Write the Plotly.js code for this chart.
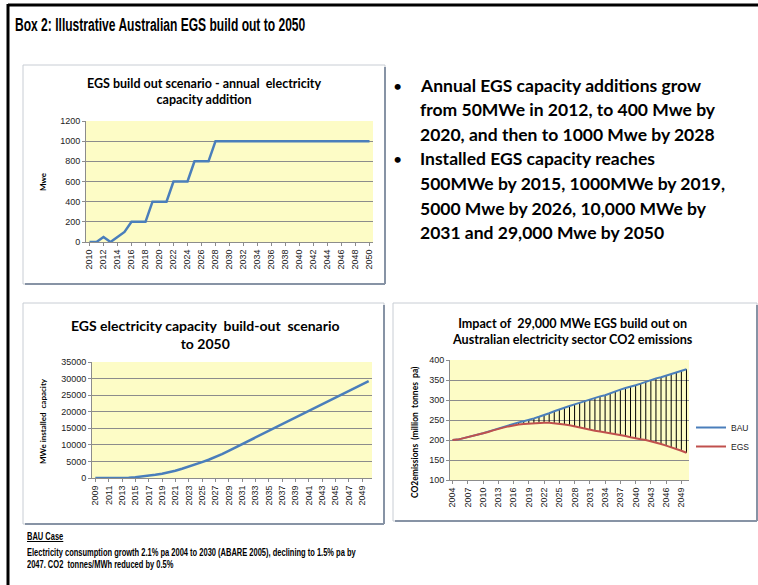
<!DOCTYPE html>
<html>
<head>
<meta charset="utf-8">
<script src="https://cdn.plot.ly/plotly-3.0.1.min.js"></script>
<style>
  body { margin: 0; background: #fff; }
  #wrap { position: relative; width: 758px; height: 585px; overflow: hidden; }
  #plotDiv { width: 758px; height: 585px; }
  .txt { position: absolute; white-space: nowrap; font-family: "Liberation Sans", Arial, sans-serif;
         font-weight: bold; color: #000; transform-origin: 0 50%; }
</style>
</head>
<body>
<div id="wrap">
  <div id="plotDiv"></div>
  <div class="txt" id="boxTitle" style="left:15px; top:15px; font-size:18px; line-height:20px;">Box 2: Illustrative Australian EGS build out to 2050</div>
  <div class="txt foot" style="left:27px; top:531px; font-size:11.5px; line-height:11px; text-decoration:underline;">BAU Case</div>
  <div class="txt foot" id="footMain" style="left:27px; top:547px; font-size:11.5px; line-height:11px;">Electricity consumption growth 2.1% pa 2004 to 2030 (ABARE 2005), declining to 1.5% pa by</div>
  <div class="txt foot" style="left:27px; top:558.5px; font-size:11.5px; line-height:11px;">2047. CO2&nbsp; tonnes/MWh reduced by 0.5%</div>
</div>
<script>
// annual capacity additions (MWe)
const addYears = [2010, 2011, 2012, 2013, 2014, 2015, 2016, 2017, 2018, 2019, 2020, 2021, 2022, 2023, 2024, 2025, 2026, 2027,
    2028, 2029, 2030, 2031, 2032, 2033, 2034, 2035, 2036, 2037, 2038, 2039, 2040, 2041, 2042, 2043, 2044, 2045, 2046, 2047, 2048, 2049, 2050];
const addMwe = [0, 0, 50, 0, 50, 100, 200, 200, 200, 400, 400, 400, 600, 600, 600, 800, 800, 800,
    1000, 1000, 1000, 1000, 1000, 1000, 1000, 1000, 1000, 1000, 1000, 1000, 1000, 1000, 1000, 1000, 1000, 1000, 1000, 1000, 1000, 1000, 1000];

// installed capacity (MWe)
const capYears = [2009, 2010, 2011, 2012, 2013, 2014, 2015, 2016, 2017, 2018, 2019, 2020, 2021, 2022, 2023, 2024, 2025, 2026, 2027, 2028, 2029,
    2030, 2031, 2032, 2033, 2034, 2035, 2036, 2037, 2038, 2039, 2040, 2041, 2042, 2043, 2044, 2045, 2046, 2047, 2048, 2049, 2050];
const capMwe = [0, 0, 0, 50, 50, 100, 250, 450, 700, 950, 1300, 1700, 2200, 2800, 3400, 4100, 4800, 5500, 6300, 7200, 8200,
    9200, 10200, 11200, 12200, 13200, 14200, 15200, 16200, 17200, 18200, 19200, 20200, 21200, 22200, 23200, 24200, 25200, 26300, 27300, 28200, 29200];

// CO2 emissions (million tonnes pa)
const co2Years = [2004, 2005, 2006, 2007, 2008, 2009, 2010, 2011, 2012, 2013, 2014, 2015, 2016, 2017, 2018, 2019, 2020, 2021, 2022, 2023,
    2024, 2025, 2026, 2027, 2028, 2029, 2030, 2031, 2032, 2033, 2034, 2035, 2036, 2037, 2038, 2039, 2040, 2041, 2042, 2043,
    2044, 2045, 2046, 2047, 2048, 2049, 2050];
const bau = [200, 201, 204, 207, 210, 213, 217, 221, 225, 229, 233, 237, 240, 244, 247, 250, 254, 258, 262, 267,
    272, 277, 281, 285, 289, 293, 298, 302, 305, 309, 312, 317, 321, 326, 330, 333, 337, 341, 346, 350,
    354, 357, 361, 365, 369, 373, 377];
const egs = [200, 201, 204, 207, 210, 213, 216, 220, 224, 228, 231, 234, 237, 239, 240, 241, 242, 243, 243, 243,
    242, 241, 239, 237, 234, 231, 228, 225, 223, 221, 219, 217, 215, 212, 210, 207, 204, 202, 200, 197,
    194, 190, 186, 182, 178, 173, 168];

const bulletLines = [
    ['•', 'Annual EGS capacity additions grow'],
    ['', 'from 50MWe in 2012, to 400 Mwe by'],
    ['', '2020, and then to 1000 Mwe by 2028'],
    ['•', 'Installed EGS capacity reaches'],
    ['', '500MWe by 2015, 1000MWe by 2019,'],
    ['', '5000 Mwe by 2026, 10,000 MWe by'],
    ['', '2031 and 29,000 Mwe by 2050']
];

const W = 758, H = 585;
const px = x => x / W;
const py = y => 1 - y / H;

const BLUE = '#4a7ebb';
const RED = '#c0504d';
const PLOT_BG = '#fdfcc6';
const GRID = '#8c8c8c';
const TITLE_FONT = 'Lato, "Open Sans", sans-serif';
const TICK_FONT = {family: '"Liberation Sans", Arial, sans-serif', size: 9, color: '#222'};

// the box heading and footnote are a very condensed face: squeeze them to the measured width
function squeeze(el, target) {
    const w = el.scrollWidth;
    return w > 0 ? target / w : 1;
}
const boxTitle = document.getElementById('boxTitle');
boxTitle.style.transform = 'scaleX(' + squeeze(boxTitle, 290) + ')';
const footScale = squeeze(document.getElementById('footMain'), 329);
document.querySelectorAll('.foot').forEach(el => { el.style.transform = 'scaleX(' + footScale + ')'; });

// vertical high-low lines between BAU and EGS
const dropX = [], dropY = [];
co2Years.forEach((yr, i) => {
    dropX.push(yr, yr, null);
    dropY.push(bau[i], egs[i], null);
});

const traceAdd = {
    x: addYears, y: addMwe, xaxis: 'x', yaxis: 'y',
    mode: 'lines', line: {color: BLUE, width: 2.5}, showlegend: false
};
const traceCap = {
    x: capYears, y: capMwe, xaxis: 'x2', yaxis: 'y2',
    mode: 'lines', line: {color: BLUE, width: 2.5}, showlegend: false
};
const traceDrop = {
    x: dropX, y: dropY, xaxis: 'x3', yaxis: 'y3',
    mode: 'lines', line: {color: '#000', width: 1}, showlegend: false, hoverinfo: 'skip'
};
const traceBau = {
    x: co2Years, y: bau, xaxis: 'x3', yaxis: 'y3', name: 'BAU',
    mode: 'lines', line: {color: BLUE, width: 2}
};
const traceEgs = {
    x: co2Years, y: egs, xaxis: 'x3', yaxis: 'y3', name: 'EGS',
    mode: 'lines', line: {color: RED, width: 2}
};

function xAxis(x0, x1, first, last, dtick, anchor) {
    return {
        domain: [px(x0), px(x1)], anchor: anchor,
        range: [first - 0.5, last + 0.5], tickmode: 'linear', tick0: first, dtick: dtick,
        tickangle: -90, tickfont: TICK_FONT, showgrid: false, zeroline: false,
        showline: true, linecolor: GRID, ticks: 'outside', ticklen: 3, tickcolor: GRID, fixedrange: true
    };
}
function yAxis(y0, y1, lo, hi, dtick, anchor) {
    return {
        domain: [py(y1), py(y0)], anchor: anchor,
        range: [lo, hi], dtick: dtick, tickformat: 'd', tickfont: TICK_FONT,
        showgrid: true, gridcolor: GRID, gridwidth: 1, zeroline: false,
        showline: true, linecolor: GRID, ticks: 'outside', ticklen: 3, tickcolor: GRID, fixedrange: true
    };
}

const shapes = [
    // outer box
    {type: 'line', xref: 'paper', yref: 'paper', x0: px(8), x1: px(8), y0: py(4), y1: py(585), line: {color: '#000', width: 3}},
    {type: 'line', xref: 'paper', yref: 'paper', x0: px(8), x1: px(758), y0: py(5), y1: py(5), line: {color: '#000', width: 3}}
];
// chart panels with shadow on right and bottom
[[23, 65, 385, 284], [23, 303, 384, 524], [393, 303, 757, 521]].forEach(([l, t, r, b]) => {
    shapes.push({type: 'rect', xref: 'paper', yref: 'paper', x0: px(l), x1: px(r), y0: py(b), y1: py(t),
        line: {color: '#c8cdd4', width: 1}, layer: 'below'});
    shapes.push({type: 'line', xref: 'paper', yref: 'paper', x0: px(r), x1: px(r), y0: py(b), y1: py(t + 2),
        line: {color: '#8793a5', width: 2}});
    shapes.push({type: 'line', xref: 'paper', yref: 'paper', x0: px(l + 2), x1: px(r), y0: py(b), y1: py(b),
        line: {color: '#8793a5', width: 2}});
});
// plot backgrounds
[[86, 121, 373, 242], [92, 362, 372, 478], [450, 360, 689, 480]].forEach(([l, t, r, b]) => {
    shapes.push({type: 'rect', xref: 'paper', yref: 'paper', x0: px(l), x1: px(r), y0: py(b), y1: py(t),
        fillcolor: PLOT_BG, line: {width: 0}, layer: 'below'});
});

function note(text, x, y, opts) {
    return Object.assign({
        text: text, xref: 'paper', yref: 'paper', x: px(x), y: py(y),
        showarrow: false, xanchor: 'left', yanchor: 'middle'
    }, opts);
}

const annotations = [
    note('<b>EGS build out scenario - annual  electricity<br>capacity addition</b>', 204, 91,
        {xanchor: 'center', font: {family: TITLE_FONT, size: 12.5, color: '#000'}}),
    note('<b>EGS electricity capacity  build-out  scenario<br>to 2050</b>', 205, 334,
        {xanchor: 'center', font: {family: TITLE_FONT, size: 14, color: '#000'}}),
    note('<b>Impact of  29,000 MWe EGS build out on<br>Australian electricity sector CO2 emissions</b>', 572, 331,
        {xanchor: 'center', font: {family: TITLE_FONT, size: 12.6, color: '#000'}}),
    note('<b>Mwe</b>', 43, 182, {xanchor: 'center', textangle: -90, font: {family: TITLE_FONT, size: 8, color: '#000'}}),
    note('<b>MWe installed  capacity</b>', 43, 421, {xanchor: 'center', textangle: -90, font: {family: TITLE_FONT, size: 8, color: '#000'}}),
    note('<b>CO2emissions  (million  tonnes  pa)</b>', 415, 432, {xanchor: 'center', textangle: -90, font: {family: TITLE_FONT, size: 8.5, color: '#000'}})
];
bulletLines.forEach(([bullet, text], i) => {
    const y = 85 + i * 24.6;
    if (bullet) annotations.push(note(bullet, 397, y, {xanchor: 'center', font: {family: TITLE_FONT, size: 16, color: '#000'}}));
    annotations.push(note('<b>' + text + '</b>', 418, y, {font: {family: TITLE_FONT, size: 17.5, color: '#000'}}));
});

const layout = {
    width: W, height: H,
    margin: {l: 0, r: 0, t: 0, b: 0},
    paper_bgcolor: 'rgba(0,0,0,0)', plot_bgcolor: 'rgba(0,0,0,0)',
    showlegend: true,
    legend: {x: px(691), y: py(413), xanchor: 'left', yanchor: 'top', bgcolor: 'rgba(0,0,0,0)',
        font: {family: TICK_FONT.family, size: 8.5, color: '#222'}, itemwidth: 30, tracegroupgap: 0},
    xaxis: xAxis(86, 373, 2010, 2050, 2, 'y'),
    yaxis: yAxis(121, 242, 0, 1200, 200, 'x'),
    xaxis2: xAxis(92, 372, 2009, 2050, 2, 'y2'),
    yaxis2: yAxis(362, 478, 0, 35000, 5000, 'x2'),
    xaxis3: xAxis(450, 689, 2004, 2050, 3, 'y3'),
    yaxis3: yAxis(360, 480, 100, 400, 50, 'x3'),
    shapes: shapes,
    annotations: annotations
};

const data = [traceAdd, traceCap, traceDrop, traceBau, traceEgs];

Plotly.newPlot('plotDiv', data, layout, {displayModeBar: false, staticPlot: true}).catch(error => {
    console.error('Error in plot:', error);
});
</script>
</body>
</html>
